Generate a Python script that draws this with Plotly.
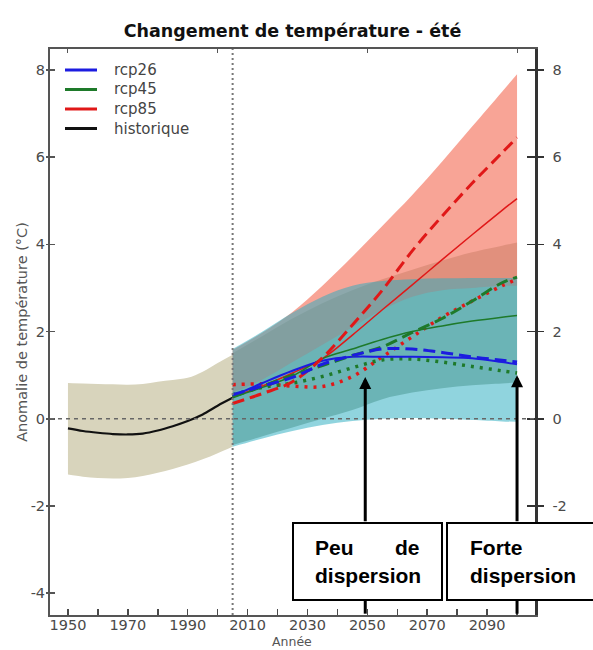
import plotly.graph_objects as go

# ---------------- data ----------------
HIST_YEARS = [1950, 1955, 1960, 1965, 1970, 1975, 1980, 1985, 1990, 1995, 2000, 2005]
HIST_MEAN = [-0.22, -0.28, -0.32, -0.35, -0.36, -0.34, -0.27, -0.17, -0.05, 0.10, 0.30, 0.48]
HIST_UP = [0.82, 0.81, 0.80, 0.79, 0.78, 0.80, 0.85, 0.89, 0.94, 1.08, 1.28, 1.47]
HIST_LO = [-1.28, -1.33, -1.36, -1.37, -1.36, -1.31, -1.24, -1.15, -1.05, -0.93, -0.79, -0.64]

FUT_YEARS = [2005, 2015, 2025, 2035, 2045, 2055, 2065, 2075, 2085, 2095, 2100]

RCP85_UP = [1.58, 1.98, 2.45, 3.05, 3.72, 4.42, 5.13, 5.90, 6.70, 7.50, 7.90]
RCP85_LO = [0.60, 0.90, 1.30, 1.70, 2.10, 2.50, 2.80, 2.95, 3.00, 3.05, 3.05]
RCP45_UP = [1.50, 1.90, 2.30, 2.65, 2.95, 3.20, 3.42, 3.63, 3.82, 3.97, 4.04]
RCP45_LO = [-0.60, -0.40, -0.20, 0.00, 0.20, 0.45, 0.60, 0.70, 0.77, 0.81, 0.83]
RCP26_UP = [1.60, 2.00, 2.43, 2.80, 3.05, 3.16, 3.20, 3.22, 3.23, 3.23, 3.23]
RCP26_LO = [-0.64, -0.45, -0.28, -0.14, -0.05, 0.00, 0.02, 0.00, -0.03, -0.06, -0.07]

RCP85_SOLID = [0.50, 0.75, 1.05, 1.38, 1.92, 2.50, 3.07, 3.65, 4.22, 4.78, 5.05]
RCP85_DASH = [0.35, 0.58, 0.85, 1.40, 2.15, 2.95, 3.85, 4.65, 5.40, 6.10, 6.45]
RCP85_DOT = [0.78, 0.80, 0.75, 0.74, 0.97, 1.42, 1.88, 2.33, 2.70, 3.05, 3.20]
RCP45_SOLID = [0.50, 0.72, 0.98, 1.38, 1.60, 1.82, 2.00, 2.13, 2.24, 2.33, 2.37]
RCP45_DASH = [0.50, 0.75, 1.00, 1.22, 1.45, 1.65, 1.98, 2.30, 2.70, 3.12, 3.25]
RCP45_DOT = [0.55, 0.72, 0.82, 0.97, 1.17, 1.35, 1.37, 1.30, 1.20, 1.10, 1.05]
RCP26_SOLID = [0.52, 0.82, 1.10, 1.33, 1.42, 1.42, 1.42, 1.41, 1.39, 1.30, 1.25]
RCP26_DASH = [0.55, 0.75, 0.95, 1.25, 1.45, 1.60, 1.60, 1.52, 1.42, 1.34, 1.30]

LEGEND_NAMES = ["rcp26", "rcp45", "rcp85", "historique"]
X_TICKS = list(range(1950, 2101, 10))
X_TICKTEXT = [str(v) if (v - 1950) % 20 == 0 and v < 2100 else "" for v in X_TICKS]
Y_TICKS = [-4, -2, 0, 2, 4, 6, 8]
Y_TICKTEXT = ["-4", "-2", "0", "2", "4", "6", "8"]
Y_TICKTEXT_RIGHT = ["", "-2", "0", "2", "4", "6", "8"]  # -4 hidden behind the text box

# ---------------- styles ----------------
C_BLUE = "#1c1ce0"
C_GREEN = "#1e7a2a"
C_RED = "#e01818"
C_BLACK = "#111111"
FONT = "DejaVu Sans"
AX = "#4a4a4a"

fig = go.Figure()


def band(years, lo, up, color):
    fig.add_trace(go.Scatter(x=years, y=lo, mode="lines", line=dict(width=0, shape="spline"),
                             showlegend=False, hoverinfo="skip"))
    fig.add_trace(go.Scatter(x=years, y=up, mode="lines", line=dict(width=0, shape="spline"),
                             fill="tonexty", fillcolor=color, showlegend=False, hoverinfo="skip"))


band(HIST_YEARS, HIST_LO, HIST_UP, "rgb(216,212,188)")
band(FUT_YEARS, RCP45_LO, RCP45_UP, "rgba(101,121,89,0.5)")
band(FUT_YEARS, RCP85_LO, RCP85_UP, "rgba(245,126,105,0.7)")
band(FUT_YEARS, RCP26_LO, RCP26_UP, "rgba(43,172,192,0.52)")


def line(y, color, width, dash):
    fig.add_trace(go.Scatter(x=FUT_YEARS, y=y, mode="lines",
                             line=dict(color=color, width=width, dash=dash, shape="spline"),
                             showlegend=False, hoverinfo="skip"))


DASH = "12px,6px"
DOT = "3px,6px"
line(RCP85_DOT, C_RED, 3.5, DOT)
line(RCP45_DOT, C_GREEN, 3.5, DOT)
line(RCP85_SOLID, C_RED, 1.5, "solid")
line(RCP45_SOLID, C_GREEN, 1.5, "solid")
line(RCP26_SOLID, C_BLUE, 2, "solid")
line(RCP85_DASH, C_RED, 3, DASH)
line(RCP45_DASH, C_GREEN, 3, DASH)
line(RCP26_DASH, C_BLUE, 3, DASH)

fig.add_trace(go.Scatter(x=HIST_YEARS, y=HIST_MEAN, mode="lines",
                         line=dict(color=C_BLACK, width=2.2, shape="spline"),
                         showlegend=False, hoverinfo="skip"))

# dummy traces for extra axes
fig.add_trace(go.Scatter(x=[None], y=[None], xaxis="x2", yaxis="y2", showlegend=False))
fig.add_trace(go.Scatter(x=[None], y=[None], xaxis="x", yaxis="y3", showlegend=False))
fig.add_trace(go.Scatter(x=[None], y=[None], xaxis="x", yaxis="y4", showlegend=False))

XR = [1944, 2106]
YR = [-4.5, 8.48]
tickfont = dict(family=FONT, size=14.5, color=AX)

fig.update_layout(
    width=593, height=650,
    margin=dict(l=50, r=58, t=49, b=35, autoexpand=False),
    paper_bgcolor="white", plot_bgcolor="white",
    showlegend=False,
    title=dict(text="<b>Changement de température - été</b>", x=0.5, xref="paper",
               y=1 - 31 / 650, yref="container", yanchor="middle",
               font=dict(family=FONT, size=17.5, color="#111")),
    xaxis=dict(range=XR, tickvals=X_TICKS, ticktext=X_TICKTEXT, ticks="inside", ticklen=6,
               tickwidth=1.5, tickcolor=AX, showline=True, linecolor="#555", linewidth=2,
               showgrid=False, zeroline=False, tickfont=tickfont, automargin=False,
               ticklabelstandoff=-4),
    xaxis2=dict(range=XR, overlaying="x", side="top", tickvals=[1950, 2000, 2050, 2100],
                ticks="inside", ticklen=4, tickcolor="#555", showline=True, linecolor="#555", linewidth=2,
                showticklabels=False, showgrid=False, zeroline=False, automargin=False),
    yaxis=dict(range=YR, tickvals=Y_TICKS, ticktext=Y_TICKTEXT, ticks="outside", ticklen=2,
               tickwidth=1.5, tickcolor="#555", showline=True, linecolor="#555", linewidth=2,
               showgrid=False, zeroline=False, tickfont=tickfont, automargin=False,
               ticklabelstandoff=-2,
               title=dict(text="Anomalie de température (°C)",
                          font=dict(family=FONT, size=14.5, color="#555"), standoff=0)),
    yaxis2=dict(range=YR, overlaying="y", side="right", tickvals=Y_TICKS, ticktext=Y_TICKTEXT_RIGHT,
                ticks="outside", ticklen=6, tickwidth=1.5, tickcolor="#333", showline=True,
                linecolor="#333", linewidth=2.5, showgrid=False, zeroline=False, tickfont=tickfont,
                automargin=False, ticklabelstandoff=6),
    yaxis3=dict(range=YR, overlaying="y", side="left", tickvals=Y_TICKS, ticks="inside",
                ticklen=5, tickwidth=1.5, tickcolor="#555", showticklabels=False, showline=False,
                showgrid=False, zeroline=False, automargin=False),
    yaxis4=dict(range=YR, overlaying="y", side="right", tickvals=Y_TICKS, ticks="inside",
                ticklen=8, tickwidth=1.5, tickcolor="#333", showticklabels=False, showline=False,
                showgrid=False, zeroline=False, automargin=False),
)

# pixel -> paper helpers for layout furniture
PL, PW, PB, PH = 50, 485, 615, 566


def px(x):
    return (x - PL) / PW


def py(y):
    return (PB - y) / PH


# x-axis title
fig.add_annotation(x=px(292), y=py(650), xref="paper", yref="paper", text="Année", showarrow=False,
                   xanchor="center", yanchor="bottom", borderpad=0,
                   font=dict(family=FONT, size=12.5, color="#555"))

# legend (drawn as layout furniture)
LEG_ROWS = [70, 89.5, 109, 128.5]
for name, col, ry in zip(LEGEND_NAMES, [C_BLUE, C_GREEN, C_RED, C_BLACK], LEG_ROWS):
    fig.add_shape(type="line", xref="paper", yref="paper", x0=px(65), x1=px(97), y0=py(ry), y1=py(ry),
                  line=dict(color=col, width=3), layer="above")
    fig.add_annotation(x=px(112), y=py(ry), xref="paper", yref="paper", text=name, showarrow=False,
                       xanchor="left", yanchor="middle",
                       font=dict(family=FONT, size=15, color="#444"))

# reference lines
fig.add_shape(type="line", xref="paper", yref="y", x0=0, x1=1, y0=0, y1=0,
              line=dict(color="#666", width=1.5, dash="4px,4px"), layer="above")
fig.add_shape(type="line", xref="x", yref="paper", x0=2005, x1=2005, y0=0, y1=1,
              line=dict(color="#777", width=2, dash="2px,3px"), layer="above")

ARROW_X = [2049.3, 2100]
ARROW_TIP = [0.96, 1.0]
BOX_TOP_Y = -2.385
BOX_BOT_Y = -4.15
for ax_, tip in zip(ARROW_X, ARROW_TIP):
    fig.add_annotation(x=ax_, y=tip, ax=ax_, ay=BOX_TOP_Y, xref="x", yref="y", axref="x", ayref="y",
                       showarrow=True, arrowhead=2, arrowwidth=3, arrowsize=0.8, arrowcolor="black",
                       text="", standoff=0)
    fig.add_shape(type="line", xref="x", yref="y", x0=ax_, x1=ax_, y0=BOX_BOT_Y, y1=-4.47,
                  line=dict(color="black", width=3), layer="above")

fig.add_shape(type="rect", xref="paper", yref="paper", x0=px(293), x1=px(442), y0=py(600), y1=py(523),
              line=dict(color="black", width=2), fillcolor="white", layer="above")
fig.add_shape(type="rect", xref="paper", yref="paper", x0=px(447), x1=px(610), y0=py(600), y1=py(523),
              line=dict(color="black", width=2), fillcolor="white", layer="above")

bf = dict(family="Liberation Sans, Arial", size=21, color="black")
texts = [("<b>Peu</b>", 313, 547, "left"), ("<b>de</b>", 422, 547, "right"),
         ("<b>dispersion</b>", 313, 575, "left"),
         ("<b>Forte</b>", 468, 547, "left"), ("<b>dispersion</b>", 468, 575, "left")]
for t, x, y, anc in texts:
    fig.add_annotation(x=px(x), y=py(y), xref="paper", yref="paper", text=t, showarrow=False,
                       xanchor=anc, yanchor="middle", font=bf)

fig.write_html("out.html",
               config={"displayModeBar": False, "staticPlot": True},
               post_script="document.body.style.margin='0px';document.body.style.overflow='hidden';")
